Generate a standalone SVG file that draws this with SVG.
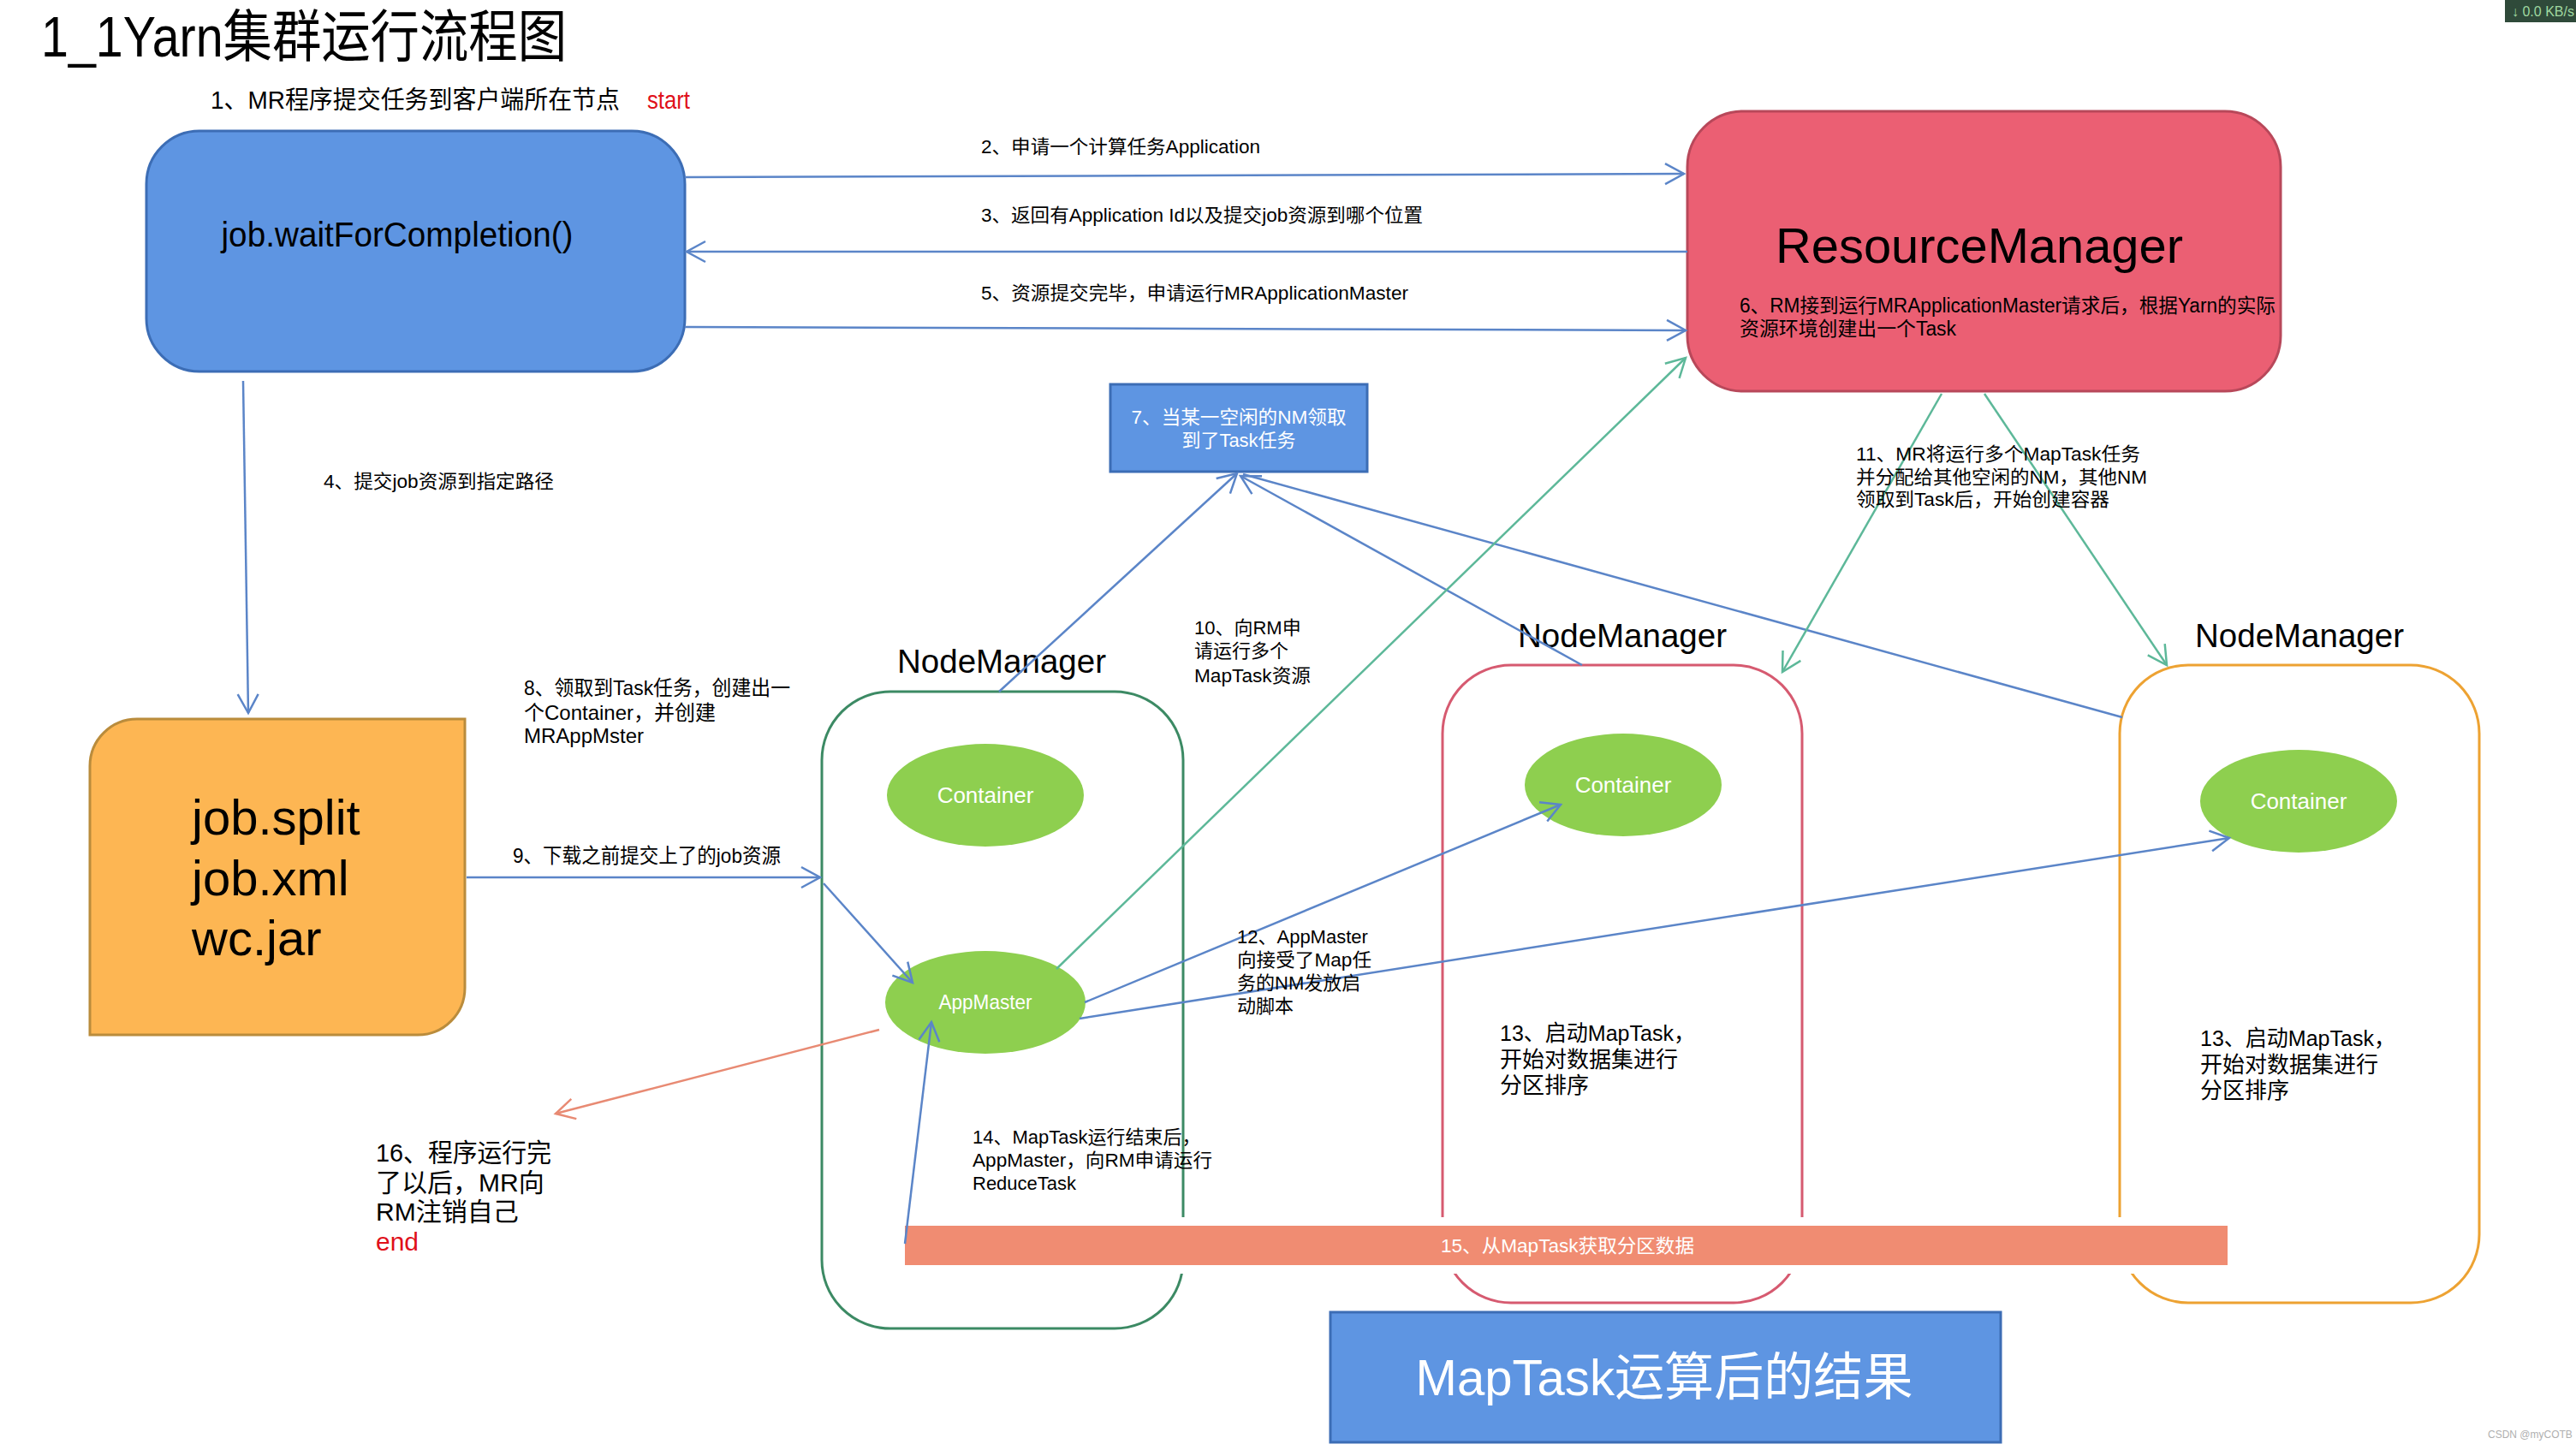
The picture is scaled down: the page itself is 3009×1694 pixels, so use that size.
<svg xmlns="http://www.w3.org/2000/svg" width="3009" height="1694" viewBox="0 0 3009 1694">
<style>
text{font-family:"Liberation Sans","Noto Sans CJK SC",sans-serif;fill:#000}
.lbl{font-size:22px}
.lbl2{font-size:24px}
.wt{fill:#fff}
.cn{stroke-width:2.5;fill:none}
.blue{stroke:#5B85C8}
.green{stroke:#5DB899}
.salmon{stroke:#E88A73}
.nm{font-size:38px}
</style>
<defs>
<marker id="ab" markerUnits="userSpaceOnUse" markerWidth="34" markerHeight="34" viewBox="-28 -17 34 34" refX="0" refY="0" orient="auto"><path d="M-22,-12 L0,0 L-22,12" fill="none" stroke="#5B85C8" stroke-width="2.5"/></marker>
<marker id="ag" markerUnits="userSpaceOnUse" markerWidth="34" markerHeight="34" viewBox="-28 -17 34 34" refX="0" refY="0" orient="auto"><path d="M-22,-12 L0,0 L-22,12" fill="none" stroke="#5DB899" stroke-width="2.5"/></marker>
<marker id="as" markerUnits="userSpaceOnUse" markerWidth="34" markerHeight="34" viewBox="-28 -17 34 34" refX="0" refY="0" orient="auto"><path d="M-22,-12 L0,0 L-22,12" fill="none" stroke="#E88A73" stroke-width="2.5"/></marker>
</defs>
<rect width="3009" height="1694" fill="#fff"/>

<text x="48" y="66" font-size="66" textLength="614" lengthAdjust="spacingAndGlyphs">1_1Yarn集群运行流程图</text>
<text x="246" y="127" font-size="29" textLength="478" lengthAdjust="spacingAndGlyphs">1、MR程序提交任务到客户端所在节点</text>
<text x="756" y="127" font-size="29" style="fill:#E0101A" textLength="50" lengthAdjust="spacingAndGlyphs">start</text>

<g id="client">
<rect x="171" y="153" width="629" height="281" rx="62" fill="#5E95E2" stroke="#3C6DB5" stroke-width="3"/>
<text x="464" y="288" font-size="40" text-anchor="middle" textLength="411" lengthAdjust="spacingAndGlyphs">job.waitForCompletion()</text>
</g>

<g id="rm">
<rect x="1971" y="130" width="693" height="327" rx="65" fill="#EB5F73" stroke="#B8485A" stroke-width="3"/>
<text x="2312" y="307" font-size="58" text-anchor="middle" textLength="476" lengthAdjust="spacingAndGlyphs">ResourceManager</text>
<text x="2032" y="365" font-size="23" textLength="626" lengthAdjust="spacingAndGlyphs">6、RM接到运行MRApplicationMaster请求后，根据Yarn的实际</text>
<text x="2032" y="392" font-size="23" textLength="253" lengthAdjust="spacingAndGlyphs">资源环境创建出一个Task</text>
</g>

<g id="jobfiles">
<path d="M105,895 A55,55 0 0 1 160,840 L543,840 L543,1154 A55,55 0 0 1 488,1209 L105,1209 Z" fill="#FDB653" stroke="#BA8C3C" stroke-width="3"/>
<text x="224" y="975" font-size="58">job.split</text>
<text x="224" y="1046" font-size="58">job.xml</text>
<text x="224" y="1116" font-size="58">wc.jar</text>
</g>

<g id="task7">
<rect x="1297" y="449" width="300" height="102" fill="#5E95E2" stroke="#3C6DB5" stroke-width="3"/>
<text class="wt" x="1447" y="495" font-size="22" text-anchor="middle" textLength="251" lengthAdjust="spacingAndGlyphs">7、当某一空闲的NM领取</text>
<text class="wt" x="1447" y="522" font-size="22" text-anchor="middle">到了Task任务</text>
</g>

<g id="nm1">
<text class="nm" x="1048" y="786" textLength="244" lengthAdjust="spacingAndGlyphs">NodeManager</text>
<rect x="960" y="808" width="422" height="744" rx="80" fill="none" stroke="#3C8A64" stroke-width="3"/>
<ellipse cx="1151" cy="929" rx="115" ry="60" fill="#8ECF4F"/>
<text class="wt" x="1151" y="938" font-size="26" text-anchor="middle">Container</text>
<ellipse cx="1151" cy="1171" rx="117" ry="60" fill="#8ECF4F"/>
<text class="wt" x="1151" y="1179" font-size="24" text-anchor="middle" textLength="109" lengthAdjust="spacingAndGlyphs">AppMaster</text>
</g>

<g id="nm2">
<text class="nm" x="1773" y="756" textLength="244" lengthAdjust="spacingAndGlyphs">NodeManager</text>
<rect x="1685" y="777" width="420" height="745" rx="80" fill="none" stroke="#D65A70" stroke-width="3"/>
<ellipse cx="1896" cy="917" rx="115" ry="60" fill="#8ECF4F"/>
<text class="wt" x="1896" y="926" font-size="26" text-anchor="middle">Container</text>
<text x="1752" y="1216" font-size="26" textLength="228" lengthAdjust="spacingAndGlyphs">13、启动MapTask，</text>
<text x="1752" y="1247" font-size="26">开始对数据集进行</text>
<text x="1752" y="1277" font-size="26">分区排序</text>
</g>

<g id="nm3">
<text class="nm" x="2564" y="756" textLength="244" lengthAdjust="spacingAndGlyphs">NodeManager</text>
<rect x="2476" y="777" width="420" height="745" rx="80" fill="none" stroke="#EDA232" stroke-width="3"/>
<ellipse cx="2685" cy="936" rx="115" ry="60" fill="#8ECF4F"/>
<text class="wt" x="2685" y="945" font-size="26" text-anchor="middle">Container</text>
<text x="2570" y="1222" font-size="26" textLength="228" lengthAdjust="spacingAndGlyphs">13、启动MapTask，</text>
<text x="2570" y="1253" font-size="26">开始对数据集进行</text>
<text x="2570" y="1283" font-size="26">分区排序</text>
</g>

<g id="bar15">
<rect x="1057" y="1432" width="1545" height="46" fill="#F08C72" stroke="#fff" stroke-width="20"/>
<rect x="1057" y="1432" width="1545" height="46" fill="#F08C72"/>
<text class="wt" x="1831" y="1463" font-size="22" text-anchor="middle" textLength="296" lengthAdjust="spacingAndGlyphs">15、从MapTask获取分区数据</text>
</g>

<g id="result">
<rect x="1554" y="1533" width="783" height="152" fill="#5E95E2" stroke="#3C6DB5" stroke-width="3"/>
<text class="wt" x="1944" y="1630" font-size="60" text-anchor="middle" textLength="581" lengthAdjust="spacingAndGlyphs">MapTask运算后的结果</text>
</g>

<g id="connectors">
<line class="cn blue" x1="800" y1="207" x2="1967" y2="203" marker-end="url(#ab)"/>
<line class="cn blue" x1="1971" y1="294" x2="802" y2="294" marker-end="url(#ab)"/>
<line class="cn blue" x1="800" y1="382" x2="1969" y2="386" marker-end="url(#ab)"/>
<line class="cn blue" x1="284" y1="445" x2="290" y2="833" marker-end="url(#ab)"/>
<line class="cn blue" x1="545" y1="1025" x2="958" y2="1025" marker-end="url(#ab)"/>
<line class="cn blue" x1="962" y1="1032" x2="1066" y2="1148" marker-end="url(#ab)"/>
<line class="cn blue" x1="1167" y1="808" x2="1445" y2="553" marker-end="url(#ab)"/>
<line class="cn blue" x1="1848" y1="777" x2="1449" y2="556" marker-end="url(#ab)"/>
<line class="cn blue" x1="2479" y1="838" x2="1452" y2="554"/>
<line class="cn green" x1="1234" y1="1132" x2="1969" y2="418" marker-end="url(#ag)"/>
<line class="cn green" x1="2268" y1="460" x2="2082" y2="785" marker-end="url(#ag)"/>
<line class="cn green" x1="2318" y1="460" x2="2531" y2="777" marker-end="url(#ag)"/>
<line class="cn blue" x1="1267" y1="1171" x2="1823" y2="940" marker-end="url(#ab)"/>
<line class="cn blue" x1="1261" y1="1190" x2="2604" y2="979" marker-end="url(#ab)"/>
<line class="cn blue" x1="1057" y1="1453" x2="1088" y2="1194" marker-end="url(#ab)"/>
<line class="cn salmon" x1="1027" y1="1203" x2="649" y2="1301" marker-end="url(#as)"/>
</g>

<g id="labels">
<text class="lbl" x="1146" y="179" textLength="326" lengthAdjust="spacingAndGlyphs">2、申请一个计算任务Application</text>
<text class="lbl" x="1146" y="259" textLength="516" lengthAdjust="spacingAndGlyphs">3、返回有Application Id以及提交job资源到哪个位置</text>
<text class="lbl" x="1146" y="350" textLength="499" lengthAdjust="spacingAndGlyphs">5、资源提交完毕，申请运行MRApplicationMaster</text>
<text class="lbl" x="378" y="570" textLength="269" lengthAdjust="spacingAndGlyphs">4、提交job资源到指定路径</text>
<text class="lbl2" x="612" y="812" textLength="311" lengthAdjust="spacingAndGlyphs">8、领取到Task任务，创建出一</text>
<text class="lbl2" x="612" y="841">个Container，并创建</text>
<text class="lbl2" x="612" y="868">MRAppMster</text>
<text class="lbl2" x="599" y="1008" textLength="313" lengthAdjust="spacingAndGlyphs">9、下载之前提交上了的job资源</text>
<text class="lbl" x="1395" y="741">10、向RM申</text>
<text class="lbl" x="1395" y="768">请运行多个</text>
<text class="lbl" x="1395" y="797" textLength="136" lengthAdjust="spacingAndGlyphs">MapTask资源</text>
<text class="lbl" x="2168" y="538" textLength="332" lengthAdjust="spacingAndGlyphs">11、MR将运行多个MapTask任务</text>
<text class="lbl" x="2168" y="565" textLength="340" lengthAdjust="spacingAndGlyphs">并分配给其他空闲的NM，其他NM</text>
<text class="lbl" x="2168" y="591" textLength="296" lengthAdjust="spacingAndGlyphs">领取到Task后，开始创建容器</text>
<text class="lbl" x="1445" y="1102">12、AppMaster</text>
<text class="lbl" x="1445" y="1129" textLength="157" lengthAdjust="spacingAndGlyphs">向接受了Map任</text>
<text class="lbl" x="1445" y="1156">务的NM发放启</text>
<text class="lbl" x="1445" y="1183">动脚本</text>
<text class="lbl" x="1136" y="1336">14、MapTask运行结束后，</text>
<text class="lbl" x="1136" y="1363" textLength="280" lengthAdjust="spacingAndGlyphs">AppMaster，向RM申请运行</text>
<text class="lbl" x="1136" y="1390">ReduceTask</text>
<text x="439" y="1357" font-size="30" textLength="205" lengthAdjust="spacingAndGlyphs">16、程序运行完</text>
<text x="439" y="1392" font-size="30">了以后，MR向</text>
<text x="439" y="1426" font-size="30">RM注销自己</text>
<text x="439" y="1461" font-size="30" style="fill:#E0101A">end</text>
</g>

<rect x="2926" y="0" width="83" height="26" fill="#2F4A3A"/>
<text x="2934" y="19" font-size="16" style="fill:#9FD8A0">↓ 0.0 KB/s</text>
<text x="2906" y="1680" font-size="12" style="fill:#B0B0B0">CSDN @myCOTB</text>
</svg>
